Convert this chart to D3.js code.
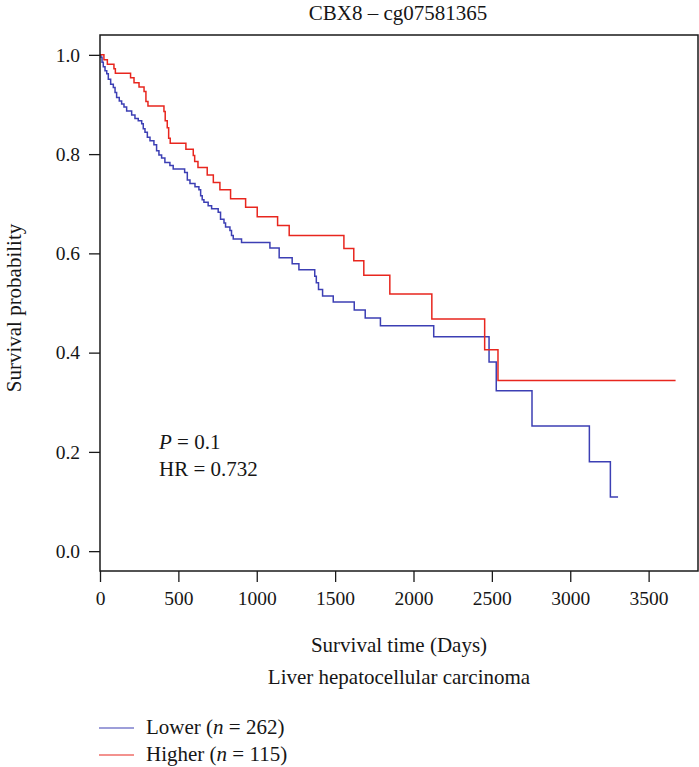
<!DOCTYPE html>
<html>
<head>
<meta charset="utf-8">
<script src="https://cdn.jsdelivr.net/npm/d3@7"></script>
<style>
  html, body { margin: 0; padding: 0; background: #fff; }
  svg text { font-family: "Liberation Serif", "DejaVu Serif", serif; fill: #161616; }
</style>
</head>
<body>
<svg id="km" width="699" height="767"></svg>
<script>
// Kaplan–Meier steps: event times (days) and survival after each step
const lowerTime = [0, 6, 13, 21, 32, 43, 53, 68, 85, 96, 106, 123, 138, 153, 170, 202, 223, 244, 266, 276, 287, 302, 319, 344, 361, 376, 393, 414, 446, 467, 540, 557, 574, 606, 631, 642, 652, 663, 690, 712, 754, 769, 791, 801, 829, 839, 850, 903, 1084, 1143, 1226, 1269, 1370, 1380, 1394, 1420, 1488, 1622, 1692, 1789, 2129, 2482, 2528, 2756, 3122, 3256, 3305];
const lowerSurv = [1.000, 0.995, 0.985, 0.976, 0.968, 0.962, 0.951, 0.941, 0.934, 0.924, 0.914, 0.907, 0.901, 0.895, 0.887, 0.879, 0.872, 0.867, 0.861, 0.851, 0.844, 0.834, 0.827, 0.819, 0.807, 0.798, 0.792, 0.783, 0.777, 0.770, 0.763, 0.748, 0.741, 0.734, 0.728, 0.716, 0.708, 0.703, 0.696, 0.690, 0.683, 0.669, 0.661, 0.653, 0.646, 0.636, 0.629, 0.622, 0.611, 0.591, 0.579, 0.567, 0.554, 0.541, 0.527, 0.514, 0.502, 0.486, 0.470, 0.454, 0.432, 0.381, 0.323, 0.252, 0.180, 0.109, 0.109];

const higherTime = [0, 25, 47, 89, 98, 195, 217, 249, 281, 293, 306, 408, 416, 429, 438, 448, 548, 595, 604, 625, 684, 723, 765, 833, 929, 1003, 1133, 1207, 1556, 1619, 1683, 1849, 2117, 2454, 2539, 3672];
const higherSurv = [1.000, 0.990, 0.981, 0.972, 0.963, 0.954, 0.944, 0.935, 0.926, 0.906, 0.897, 0.886, 0.867, 0.853, 0.832, 0.822, 0.810, 0.797, 0.785, 0.773, 0.758, 0.743, 0.728, 0.710, 0.693, 0.674, 0.656, 0.636, 0.610, 0.585, 0.556, 0.518, 0.468, 0.406, 0.344, 0.344];

const groupNames = ["Lower", "Higher"];
const groupSizes = [262, 115];
const groupColors = ["#3c3fb4", "#e8261e"];

const xTicks = [0, 500, 1000, 1500, 2000, 2500, 3000, 3500];
const yTicks = [0.0, 0.2, 0.4, 0.6, 0.8, 1.0];

const titleText = "CBX8 \u2013 cg07581365";
const xLabel = "Survival time (Days)";
const subLabel = "Liver hepatocellular carcinoma";
const yLabel = "Survival probability";
const pValue = "0.1";
const hrValue = "0.732";

// Plot frame
const box = { left: 100, right: 698, top: 35, bottom: 571 };
const svg = d3.select("#km");

const x = d3.scaleLinear().domain([0, 3815]).range([box.left, box.right]);
const y = d3.scaleLinear().domain([-0.04, 1.04]).range([box.bottom, box.top]);

// Survival curves
const line = d3.line()
  .x(d => x(d[0]))
  .y(d => y(d[1]))
  .curve(d3.curveStepAfter);

const series = [
  d3.zip(lowerTime, lowerSurv),
  d3.zip(higherTime, higherSurv)
];

svg.append("g")
  .selectAll("path")
  .data(series)
  .join("path")
  .attr("d", line)
  .attr("fill", "none")
  .attr("stroke", (d, i) => groupColors[i])
  .attr("stroke-width", 1.5);

// Frame around the plotting region
svg.append("rect")
  .attr("x", box.left)
  .attr("y", box.top)
  .attr("width", box.right - box.left)
  .attr("height", box.bottom - box.top)
  .attr("fill", "none")
  .attr("stroke", "#1a1a1a")
  .attr("stroke-width", 1.5);

// Axes
const xAxis = svg.append("g")
  .attr("transform", `translate(0,${box.bottom})`)
  .call(d3.axisBottom(x).tickValues(xTicks).tickFormat(d3.format("d")).tickSize(11).tickPadding(9));

const yAxis = svg.append("g")
  .attr("transform", `translate(${box.left},0)`)
  .call(d3.axisLeft(y).tickValues(yTicks).tickFormat(d3.format(".1f")).tickSize(11).tickPadding(9));

[xAxis, yAxis].forEach(g => {
  g.select(".domain").remove();
  g.selectAll(".tick line").attr("stroke", "#1a1a1a").attr("stroke-width", 1.3);
  g.selectAll(".tick text")
    .attr("fill", "#161616")
    .style("font-family", "'Liberation Serif', 'DejaVu Serif', serif")
    .style("font-size", "19.5px");
});

// Title and axis labels
svg.append("text")
  .attr("x", (box.left + box.right) / 2 - 1)
  .attr("y", 20)
  .attr("text-anchor", "middle")
  .style("font-size", "21px")
  .text(titleText);

svg.append("text")
  .attr("transform", `translate(21,${(box.top + box.bottom) / 2 + 5}) rotate(-90)`)
  .attr("text-anchor", "middle")
  .style("font-size", "21px")
  .text(yLabel);

svg.append("text")
  .attr("x", (box.left + box.right) / 2)
  .attr("y", 652)
  .attr("text-anchor", "middle")
  .style("font-size", "21px")
  .text(xLabel);

svg.append("text")
  .attr("x", (box.left + box.right) / 2)
  .attr("y", 684)
  .attr("text-anchor", "middle")
  .style("font-size", "21px")
  .text(subLabel);

// Statistics annotation
const stats = svg.append("g").style("font-size", "21px");
const pLine = stats.append("text").attr("x", 159).attr("y", 449);
pLine.append("tspan").style("font-style", "italic").text("P");
pLine.append("tspan").text(" = " + pValue);
stats.append("text").attr("x", 159).attr("y", 476).text("HR = " + hrValue);

// Legend
const legendY = [728, 755];
const legend = svg.append("g");
groupNames.forEach((name, i) => {
  legend.append("line")
    .attr("x1", 99).attr("x2", 134)
    .attr("y1", legendY[i]).attr("y2", legendY[i])
    .attr("stroke", groupColors[i])
    .attr("stroke-width", 1.2);
  const t = legend.append("text")
    .attr("x", 146)
    .attr("y", legendY[i] + 6)
    .style("font-size", "21px");
  t.append("tspan").text(name + " (");
  t.append("tspan").style("font-style", "italic").text("n");
  t.append("tspan").text(" = " + groupSizes[i] + ")");
});
</script>
</body>
</html>
